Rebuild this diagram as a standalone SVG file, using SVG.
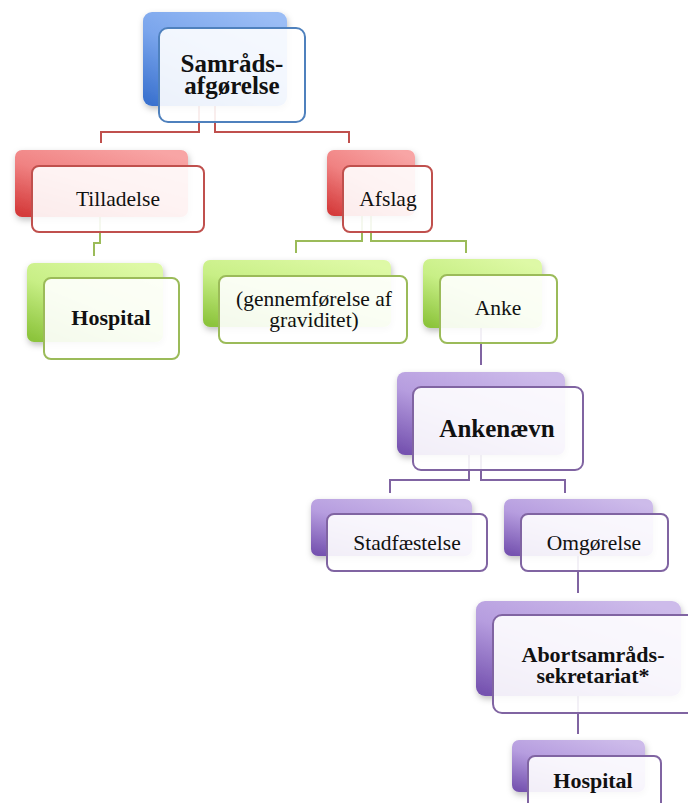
<svg xmlns="http://www.w3.org/2000/svg" width="688" height="803" viewBox="0 0 688 803">
  <defs>
    <linearGradient id="gBlue" x1="0.8" y1="0" x2="0.1" y2="1">
      <stop offset="0" stop-color="#9bbdf5"/>
      <stop offset="0.5" stop-color="#7aa5ec"/>
      <stop offset="1" stop-color="#3b72cf"/>
    </linearGradient>
    <linearGradient id="gRed" x1="0.8" y1="0" x2="0.1" y2="1">
      <stop offset="0" stop-color="#f8a5a5"/>
      <stop offset="0.5" stop-color="#f08282"/>
      <stop offset="1" stop-color="#d43a3a"/>
    </linearGradient>
    <linearGradient id="gGreen" x1="0.8" y1="0" x2="0.1" y2="1">
      <stop offset="0" stop-color="#def9a6"/>
      <stop offset="0.5" stop-color="#c8ef86"/>
      <stop offset="1" stop-color="#8cc43c"/>
    </linearGradient>
    <linearGradient id="gPurple" x1="0.8" y1="0" x2="0.1" y2="1">
      <stop offset="0" stop-color="#cdbbea"/>
      <stop offset="0.5" stop-color="#b69ddf"/>
      <stop offset="1" stop-color="#7653b0"/>
    </linearGradient>
    <filter id="soft" x="-10%" y="-10%" width="125%" height="130%">
      <feDropShadow dx="1" dy="3" stdDeviation="3" flood-color="#000" flood-opacity="0.25"/>
    </filter>
  </defs>
  <style>
    .back { stroke: none; filter: url(#soft); }
    .front { fill: #ffffff; fill-opacity: 0.9; stroke-width: 2; }
    .b-blue { fill: url(#gBlue); }
    .b-red { fill: url(#gRed); }
    .b-green { fill: url(#gGreen); }
    .b-purple { fill: url(#gPurple); }
    .f-blue { stroke: #4f81bd; }
    .f-red { stroke: #c0504d; }
    .f-green { stroke: #9bbb59; }
    .f-purple { stroke: #8064a2; }
    .lbl { font-family: "Liberation Serif", "Times New Roman", serif; fill: #111; text-anchor: middle; font-size: 21.5px; }
    .big { font-weight: bold; font-size: 25px; }
    .mid { font-weight: bold; font-size: 22px; }
    .conn path { fill: none; stroke-width: 2; }
    .c-red { stroke: #c0504d; }
    .c-green { stroke: #9bbb59; }
    .c-purple { stroke: #8064a2; }
  </style>

  <!-- connectors -->
  <g id="connectors" class="conn">
    <path class="c-red" d="M199,106 V132 H101 V143"/>
    <path class="c-red" d="M215,106 V132 H349 V143"/>
    <path class="c-green" d="M100,217 V243 H94 V256"/>
    <path class="c-green" d="M362,216 V241 H296 V253"/>
    <path class="c-green" d="M371,216 V241 H466 V253"/>
    <path class="c-purple" d="M481,328 V365"/>
    <path class="c-purple" d="M469,455 V480 H390 V493"/>
    <path class="c-purple" d="M481,455 V480 H565 V493"/>
    <path class="c-purple" d="M578,556 V593"/>
    <path class="c-purple" d="M578,696 V734"/>
  </g>

  <g id="samraad">
    <rect class="back b-blue" x="143" y="12" width="144" height="94" rx="9"/>
    <rect class="front f-blue" x="159" y="28" width="146" height="94" rx="9"/>
    <text class="lbl big" x="232" y="72">Samråds-</text>
    <text class="lbl big" x="232" y="94">afgørelse</text>
  </g>

  <g id="tilladelse">
    <rect class="back b-red" x="15" y="150" width="173" height="67" rx="7"/>
    <rect class="front f-red" x="32" y="166" width="172" height="66" rx="7"/>
    <text class="lbl" x="118" y="206">Tilladelse</text>
  </g>

  <g id="afslag">
    <rect class="back b-red" x="327" y="150" width="88" height="66" rx="7"/>
    <rect class="front f-red" x="343" y="166" width="89" height="66" rx="7"/>
    <text class="lbl" x="388" y="206">Afslag</text>
  </g>

  <g id="hospital-1">
    <rect class="back b-green" x="27" y="263" width="136" height="79" rx="7"/>
    <rect class="front f-green" x="44" y="278" width="135" height="81" rx="7"/>
    <text class="lbl mid" x="111" y="325">Hospital</text>
  </g>

  <g id="gennemfoerelse">
    <rect class="back b-green" x="203" y="260" width="188" height="67" rx="7"/>
    <rect class="front f-green" x="219" y="276" width="188" height="67" rx="7"/>
    <text class="lbl" x="314" y="306">(gennemførelse af</text>
    <text class="lbl" x="314" y="327">graviditet)</text>
  </g>

  <g id="anke">
    <rect class="back b-green" x="423" y="259" width="119" height="69" rx="7"/>
    <rect class="front f-green" x="440" y="275" width="117" height="68" rx="7"/>
    <text class="lbl" x="498" y="315">Anke</text>
  </g>

  <g id="ankenaevn">
    <rect class="back b-purple" x="397" y="372" width="168" height="83" rx="8"/>
    <rect class="front f-purple" x="413" y="387" width="170" height="83" rx="8"/>
    <text class="lbl big" x="497" y="437">Ankenævn</text>
  </g>

  <g id="stadfaestelse">
    <rect class="back b-purple" x="311" y="499" width="161" height="57" rx="7"/>
    <rect class="front f-purple" x="327" y="514" width="160" height="57" rx="7"/>
    <text class="lbl" x="407" y="550">Stadfæstelse</text>
  </g>

  <g id="omgoerelse">
    <rect class="back b-purple" x="504" y="499" width="149" height="57" rx="7"/>
    <rect class="front f-purple" x="521" y="514" width="147" height="57" rx="7"/>
    <text class="lbl" x="594" y="550">Omgørelse</text>
  </g>

  <g id="sekretariat">
    <rect class="back b-purple" x="476" y="601" width="205" height="95" rx="9"/>
    <rect class="front f-purple" x="493" y="615" width="205" height="98" rx="9"/>
    <text class="lbl mid" x="593" y="662">Abortsamråds-</text>
    <text class="lbl mid" x="593" y="683">sekretariat*</text>
  </g>

  <g id="hospital-2">
    <rect class="back b-purple" x="512" y="740" width="133" height="52" rx="7"/>
    <rect class="front f-purple" x="528" y="756" width="133" height="60" rx="7"/>
    <text class="lbl mid" x="593" y="788">Hospital</text>
  </g>
</svg>
